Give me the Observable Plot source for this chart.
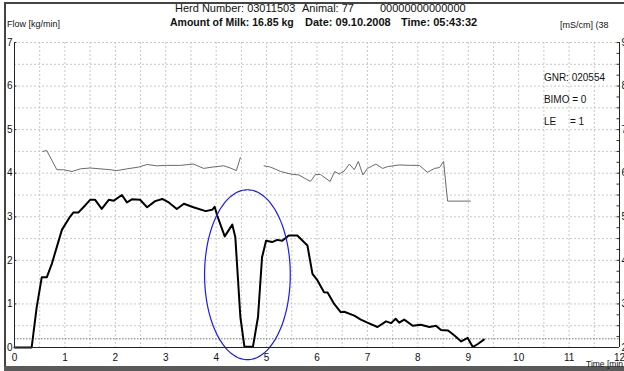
<!DOCTYPE html>
<html>
<head>
<meta charset="utf-8">
<script src="https://cdn.jsdelivr.net/npm/d3@7"></script>
<script src="https://cdn.jsdelivr.net/npm/@observablehq/plot@0.6"></script>
<style>
  html, body { margin: 0; padding: 0; background: #fff; }
  #wrap { position: relative; width: 624px; height: 371px; overflow: hidden; font-family: "Liberation Sans", Arial, sans-serif; }
  #wrap svg { position: absolute; left: 0; top: 0; }
  .t { position: absolute; white-space: pre; color: #111; line-height: 1; }
  #frame { position: absolute; left: 4px; top: 2px; width: 640px; height: 362px; border-left: 2px solid #444; border-top: 2px solid #444; }
  #bar { position: absolute; left: 4px; top: 366px; width: 640px; height: 5px; background: #5a5a5a; }
</style>
</head>
<body>
<div id="wrap">
  <div id="frame"></div>
  <div id="bar"></div>
</div>
<script>
// ---- data ----
const flowTime = [0, 0.34, 0.44, 0.54, 0.64, 0.74, 0.94, 1.10, 1.17, 1.27, 1.40, 1.50, 1.60, 1.73, 1.87, 1.97, 2.13, 2.23, 2.33, 2.49, 2.63, 2.79, 2.93, 3.06, 3.22, 3.36, 3.55, 3.79, 3.92, 3.97, 4.02, 4.17, 4.32, 4.38, 4.48, 4.56, 4.73, 4.83, 4.91, 4.99, 5.11, 5.21, 5.31, 5.44, 5.61, 5.81, 5.91, 6.01, 6.14, 6.21, 6.34, 6.47, 6.54, 6.74, 6.87, 7.00, 7.20, 7.37, 7.47, 7.56, 7.63, 7.73, 7.90, 8.06, 8.23, 8.36, 8.46, 8.60, 8.72, 8.86, 8.99, 9.09, 9.19, 9.31];
const flowValue = [0, 0, 0.92, 1.61, 1.61, 1.92, 2.70, 3.00, 3.10, 3.10, 3.26, 3.39, 3.39, 3.18, 3.39, 3.37, 3.50, 3.33, 3.40, 3.39, 3.22, 3.36, 3.41, 3.33, 3.18, 3.30, 3.22, 3.13, 3.16, 3.23, 3.03, 2.55, 2.82, 2.53, 0.70, 0.02, 0.02, 0.70, 2.07, 2.45, 2.42, 2.47, 2.45, 2.57, 2.57, 2.34, 1.69, 1.54, 1.27, 1.26, 1.00, 0.81, 0.82, 0.73, 0.64, 0.57, 0.47, 0.60, 0.56, 0.66, 0.57, 0.64, 0.50, 0.52, 0.47, 0.50, 0.40, 0.39, 0.28, 0.14, 0.22, 0.01, 0.08, 0.18];

// conductivity [mS/cm], two segments
const condTime1 = [0.56, 0.64, 0.84, 0.97, 1.14, 1.31, 1.50, 1.70, 1.90, 2.03, 2.23, 2.46, 2.63, 2.82, 3.02, 3.29, 3.55, 3.75, 3.92, 4.15, 4.28, 4.40, 4.48];
const condValue1 = [6.50, 6.52, 6.08, 6.08, 6.04, 6.10, 6.12, 6.10, 6.08, 6.06, 6.10, 6.14, 6.20, 6.17, 6.18, 6.18, 6.21, 6.11, 6.14, 6.17, 6.12, 6.06, 6.36];
const condTime2 = [4.95, 5.08, 5.28, 5.48, 5.64, 5.87, 5.97, 6.07, 6.26, 6.35, 6.44, 6.54, 6.64, 6.74, 6.82, 6.91, 7.00, 7.17, 7.30, 7.40, 7.63, 7.86, 8.03, 8.19, 8.33, 8.43, 8.51, 8.59, 9.04];
const condValue2 = [6.17, 6.14, 6.04, 5.98, 5.96, 5.81, 5.97, 5.97, 5.81, 6.04, 5.98, 6.05, 6.21, 6.08, 6.27, 5.96, 6.11, 6.21, 6.11, 6.15, 6.19, 6.18, 6.18, 6.02, 6.11, 6.13, 6.27, 5.36, 5.36];

const xTicks = [0, 1, 2, 3, 4, 5, 6, 7, 8, 9, 10, 11, 12];
const yTicks = [0, 1, 2, 3, 4, 5, 6, 7];
const condTicks = [2, 3, 4, 5, 6, 7, 8, 9];
const condOffset = 2; // right axis (mS/cm) = left axis + 2
const gridX = d3.range(0, 12.01, 0.5);
const gridY = d3.range(0, 7.01, 0.5);
const condMinor = d3.range(2, 9.01, 0.25);
const limitLine = [0.2];

// annotation ellipse (center & radii in data units)
const ellipseCenter = {x: 4.62, y: 1.67};
const ellipseRadius = {x: 0.85, y: 1.95};

const infoText = ["GNR: 020554", "BIMO = 0", "LE     = 1"];
const infoY = [6.19, 5.69, 5.18];

// ---- build ----
const flow = flowTime.map((t, i) => ({t, v: flowValue[i]}));
const cond1 = condTime1.map((t, i) => ({t, v: condValue1[i] - condOffset}));
const cond2 = condTime2.map((t, i) => ({t, v: condValue2[i] - condOffset}));
const ell = d3.range(0, 361, 4).map(a => ({
  t: ellipseCenter.x + ellipseRadius.x * Math.cos(a * Math.PI / 180),
  v: ellipseCenter.y + ellipseRadius.y * Math.sin(a * Math.PI / 180)
}));
const TICK = 0.05;

const font = "Liberation Sans, Arial, sans-serif";
const chart = Plot.plot({
  width: 624, height: 371,
  marginLeft: 14, marginRight: 5, marginTop: 42, marginBottom: 24,
  x: {domain: [0, 12], axis: null},
  y: {domain: [0, 7], axis: null},
  style: {background: "transparent", fontFamily: font, overflow: "visible"},
  marks: [
    Plot.ruleX(gridX, {stroke: "#c8c8c8", strokeDasharray: "2,2"}),
    Plot.ruleY(gridY, {stroke: "#c8c8c8", strokeDasharray: "2,2"}),
    Plot.ruleY(limitLine, {stroke: "#777", strokeDasharray: "1.5,1.5"}),
    Plot.line(cond1, {x: "t", y: "v", stroke: "#6a6a6a", strokeWidth: 1}),
    Plot.line(cond2, {x: "t", y: "v", stroke: "#6a6a6a", strokeWidth: 1}),
    Plot.line(flow, {x: "t", y: "v", stroke: "#000", strokeWidth: 2, curve: "linear"}),
    Plot.line(ell, {x: "t", y: "v", stroke: "#1a1aff", strokeWidth: 1.2, curve: "catmull-rom", clip: false}),
    Plot.ruleX([0], {stroke: "#222"}),
    Plot.ruleX([12], {stroke: "#222"}),
    Plot.ruleY([0], {stroke: "#222"}),
    Plot.ruleY(condMinor, {y: d => d - condOffset, x1: 12 - TICK, x2: 12, stroke: "#333"}),
    Plot.ruleY(yTicks, {x1: 0, x2: TICK, stroke: "#333"}),
    Plot.text(xTicks, {x: d => d, y: 0, dy: 10, text: d => String(d), fontSize: 10, fill: "#111"}),
    Plot.text(yTicks, {x: 0, y: d => d, dx: -2, textAnchor: "end", text: d => String(d), fontSize: 10, fill: "#111"}),
    Plot.text(condTicks, {x: 12, y: d => d - condOffset, dx: 2, textAnchor: "start", text: d => String(d), fontSize: 10, fill: "#111"}),
    Plot.text(infoText, {x: 10.5, y: (d, i) => infoY[i], text: d => d, textAnchor: "start", fontSize: 10, fill: "#111"})
  ]
});
const wrap = document.getElementById("wrap");
wrap.insertBefore(chart, wrap.firstChild);

const labels = [
  {text: "Herd Number: 03011503", x: 175, y: 3, size: 11, bold: false},
  {text: "Animal: 77", x: 302, y: 3, size: 11, bold: false},
  {text: "00000000000000", x: 380, y: 3, size: 11, bold: false},
  {text: "Amount of Milk: 16.85 kg", x: 170, y: 17, size: 10.5, bold: true},
  {text: "Date: 09.10.2008", x: 305, y: 17, size: 11, bold: true},
  {text: "Time: 05:43:32", x: 401, y: 17, size: 11, bold: true},
  {text: "Flow [kg/min]", x: 7, y: 20, size: 9, bold: false},
  {text: "[mS/cm] (38", x: 560, y: 21, size: 9, bold: false},
  {text: "Time [min", x: 586, y: 360, size: 8.5, bold: false}
];
for (const l of labels) {
  const d = document.createElement("div");
  d.className = "t";
  d.textContent = l.text;
  d.style.left = l.x + "px";
  d.style.top = l.y + "px";
  d.style.fontSize = l.size + "px";
  d.style.fontWeight = l.bold ? "bold" : "normal";
  wrap.appendChild(d);
}
</script>
</body>
</html>
